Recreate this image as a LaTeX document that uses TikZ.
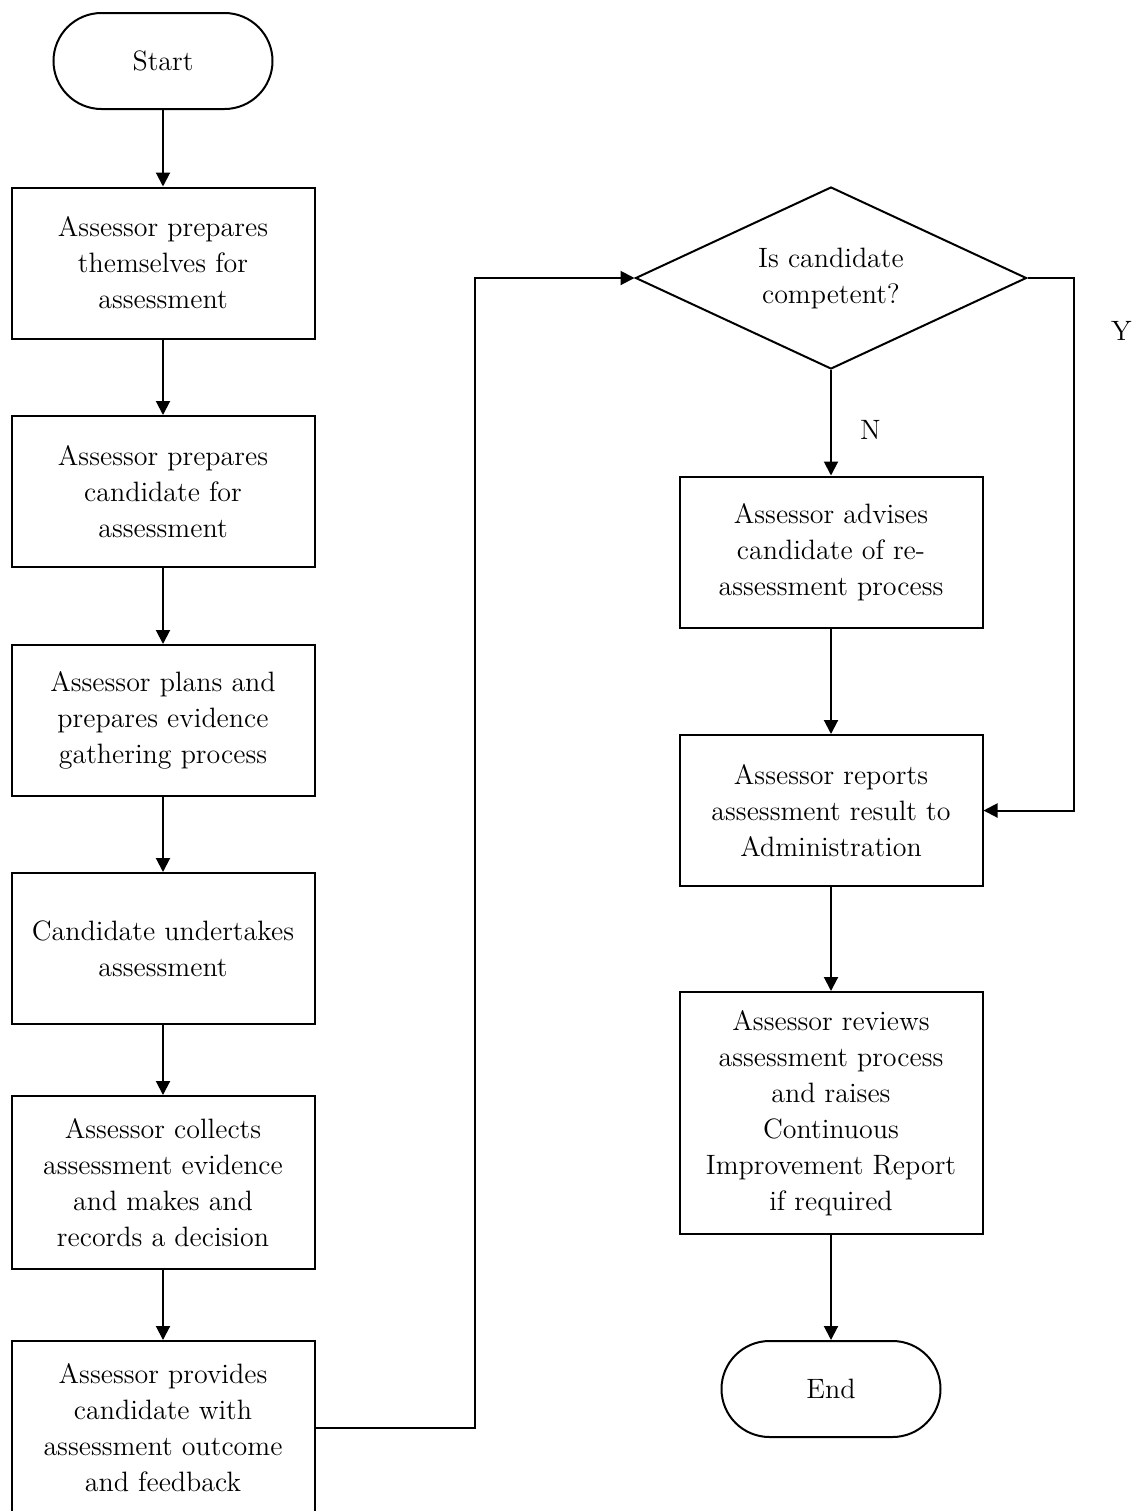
\documentclass[tikz,border=0pt]{standalone}
\usepackage{fontspec}
\usetikzlibrary{shapes.geometric,arrows.meta,positioning}

\tikzset{
	procbox/.style = {draw, line width=1pt, rectangle, align=center, minimum width=151.5pt, minimum height=75.5pt, inner sep=2pt},
	termbox/.style = {draw, line width=1pt, rectangle, rounded corners=24pt, align=center, minimum width=109.5pt, minimum height=48pt},
	decbox/.style = {draw, line width=1pt, diamond, aspect=2.15, align=center, minimum width=195.5pt, minimum height=91pt, inner sep=0pt},
	flow/.style = {line width=1pt, -{Triangle[length=7pt, width=7pt]}},
	every node/.style = {font=\fontsize{14}{18}\selectfont}
}

\begin{document}
\begin{tikzpicture}[x=0.5pt, y=-0.5pt]
	\useasboundingbox (0,0) rectangle (1131,1511);
		\node[termbox] (Start) at (163,61) {Start};
		\node[procbox] (PrepSelf) at (163,263) {Assessor prepares\\themselves for\\assessment};
		\node[procbox] (PrepCand) at (163,491.5) {Assessor prepares\\candidate for\\assessment};
		\node[procbox] (Plan) at (163,720.5) {Assessor plans and\\prepares evidence\\gathering process};
		\node[procbox] (Undertake) at (163,948.5) {Candidate undertakes\\assessment};
		\node[procbox, minimum height=86.5pt] (Collect) at (163,1182.5) {Assessor collects\\assessment evidence\\and makes and\\records a decision};
		\node[procbox, minimum height=87pt] (Feedback) at (163,1428) {Assessor provides\\candidate with\\assessment outcome\\and feedback};
		\node[decbox] (Competent) at (831,278) {Is candidate\\competent?};
		\node[procbox] (Advise) at (831,552) {Assessor advises\\candidate of re-\\assessment process};
		\node[procbox] (Report) at (831,810.5) {Assessor reports\\assessment result to\\Administration};
		\node[procbox, minimum height=121pt] (Review) at (831,1113) {Assessor reviews\\assessment process\\and raises\\Continuous\\Improvement Report\\if required};
		\node[termbox] (End) at (831,1389) {End};
		\coordinate (LeftBus) at (475,278);
		\coordinate (RightBus) at (1074,278);
		\draw[flow] (Start) -- (PrepSelf);
		\draw[flow] (PrepSelf) -- (PrepCand);
		\draw[flow] (PrepCand) -- (Plan);
		\draw[flow] (Plan) -- (Undertake);
		\draw[flow] (Undertake) -- (Collect);
		\draw[flow] (Collect) -- (Feedback);
		\draw[flow] (Feedback.east) -- (Feedback.east -| LeftBus) -- (LeftBus) -- (Competent.west);
		\draw[flow] (Competent.south) -- node[pos=0.57, right=14pt, inner sep=0pt] {N} (Advise.north);
		\draw[flow] (Competent.east) -- (RightBus) -- node[pos=0.1, right=18pt, inner sep=0pt] {Y} (RightBus |- Report.east) -- (Report.east);
		\draw[flow] (Advise) -- (Report);
		\draw[flow] (Report) -- (Review);
		\draw[flow] (Review) -- (End);
\end{tikzpicture}
\end{document}
